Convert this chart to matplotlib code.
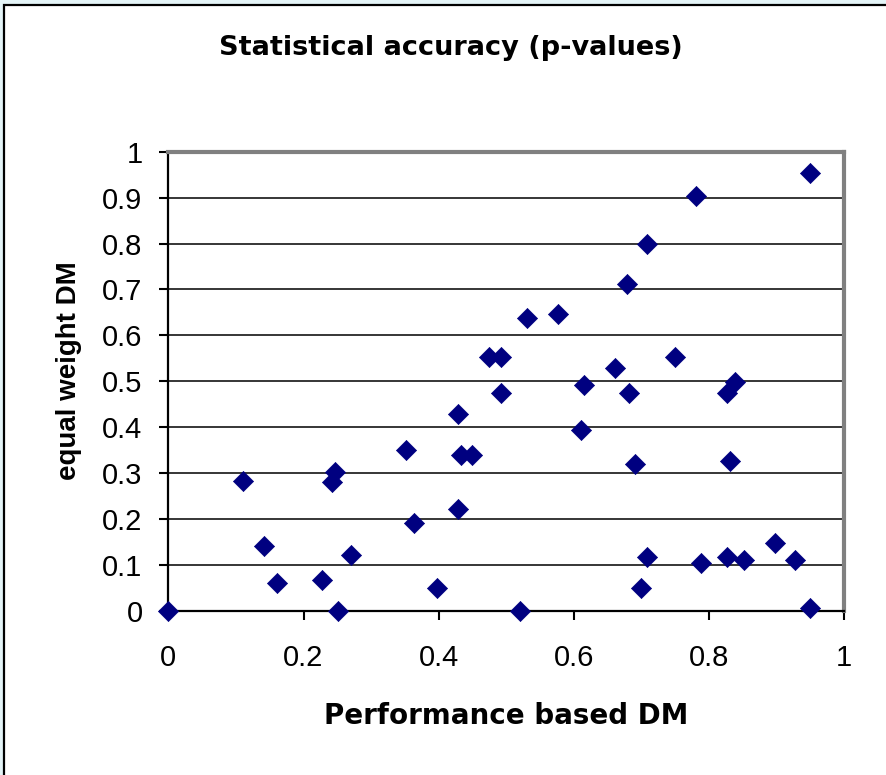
import matplotlib
matplotlib.use("Agg")
import matplotlib.pyplot as plt
from matplotlib.patches import Rectangle

plt.rcParams['font.family'] = ['Liberation Sans', 'DejaVu Sans']

# Data
performance_dm = [0.000, 0.110, 0.141, 0.161, 0.228, 0.242, 0.246, 0.251, 0.271,
                  0.351, 0.364, 0.398, 0.428, 0.428, 0.433, 0.450, 0.475, 0.492,
                  0.492, 0.521, 0.530, 0.576, 0.610, 0.615, 0.661, 0.678, 0.682,
                  0.691, 0.699, 0.708, 0.708, 0.750, 0.780, 0.788, 0.826, 0.826,
                  0.831, 0.839, 0.852, 0.898, 0.927, 0.949, 0.949]
equal_weight_dm = [0.000, 0.282, 0.142, 0.062, 0.068, 0.280, 0.303, 0.000, 0.123,
                   0.350, 0.191, 0.049, 0.430, 0.221, 0.339, 0.339, 0.554, 0.554,
                   0.474, 0.000, 0.639, 0.646, 0.394, 0.492, 0.528, 0.713, 0.474,
                   0.319, 0.049, 0.799, 0.117, 0.554, 0.904, 0.105, 0.474, 0.117,
                   0.327, 0.498, 0.111, 0.147, 0.111, 0.953, 0.007]

x_ticks = [0, 0.2, 0.4, 0.6, 0.8, 1]
x_ticklabels = ["0", "0.2", "0.4", "0.6", "0.8", "1"]
y_ticks = [0, 0.1, 0.2, 0.3, 0.4, 0.5, 0.6, 0.7, 0.8, 0.9, 1]
y_ticklabels = ["0", "0.1", "0.2", "0.3", "0.4", "0.5", "0.6", "0.7", "0.8", "0.9", "1"]

W, H = 887, 775
fig = plt.figure(figsize=(W / 100, H / 100), dpi=100)
fig.patch.set_facecolor('#e4f4f7')
bg = Rectangle((4.5 / W, -0.05), 1.1, 1 - 4.5 / H + 0.05,
               transform=fig.transFigure, facecolor='white',
               edgecolor='black', linewidth=1.6, zorder=-10)
fig.patches.append(bg)

ax = fig.add_axes([168.3 / W, (H - 611) / H, (844.3 - 168.3) / W, (611 - 151.7) / H])
ax.set_zorder(5)
ax.set_facecolor('white')
ax.set_xlim(0, 1)
ax.set_ylim(0, 1)

for y in y_ticks[1:]:
    ax.axhline(y, color='black', linewidth=1.1, zorder=1)

ax.scatter(performance_dm, equal_weight_dm, marker='D', s=105, color='#000080',
           edgecolors='#000080', linewidths=0.5, zorder=3, clip_on=False)

ax.set_xticks(x_ticks)
ax.set_xticklabels(x_ticklabels)
ax.set_yticks(y_ticks)
ax.set_yticklabels(y_ticklabels)
ax.tick_params(axis='both', direction='out', length=6.5, width=1.5, colors='black',
               labelsize=21, labelfontfamily='Liberation Sans')
ax.tick_params(axis='x', pad=17)
ax.tick_params(axis='y', pad=12)

for side in ['top', 'right']:
    ax.spines[side].set_color('#808080')
    ax.spines[side].set_linewidth(3)
for side in ['left', 'bottom']:
    ax.spines[side].set_color('black')
    ax.spines[side].set_linewidth(1.6)

fig.text(451 / W, 1 - 48 / H, "Statistical accuracy (p-values)", ha='center',
         va='center', fontsize=19.5, fontweight='bold', family=['DejaVu Sans'])
fig.text(506 / W, 1 - 716 / H, "Performance based DM", ha='center', va='center',
         fontsize=20, fontweight='bold', family=['DejaVu Sans'])
fig.text(69 / W, 1 - 371 / H, "equal weight DM", ha='center', va='center',
         rotation=90, fontsize=20, fontweight='bold')

fig.savefig("out.png", dpi=100, facecolor=fig.get_facecolor())
